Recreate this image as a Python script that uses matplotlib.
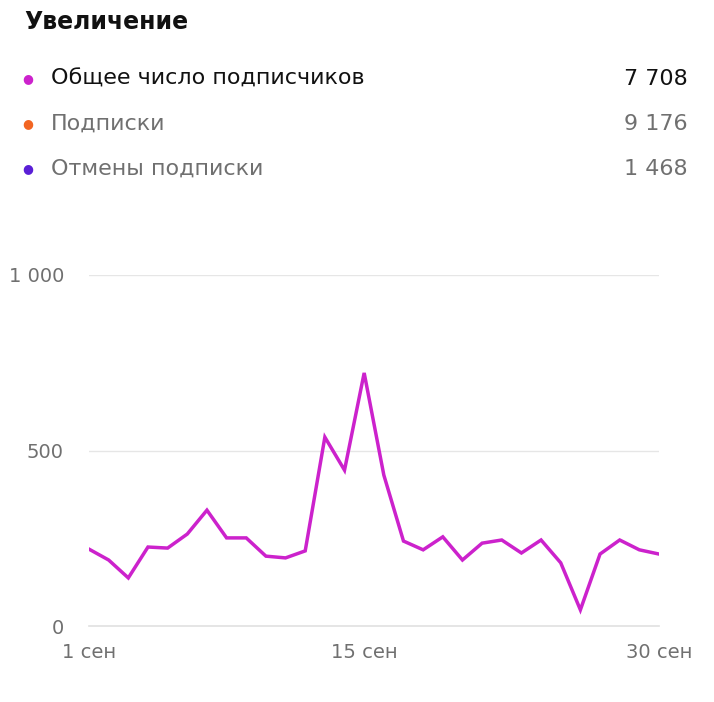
import matplotlib.pyplot as plt

days = list(range(1, 31))
values = [219, 188, 137, 225, 222, 262, 330, 251, 251, 199, 194, 214, 538, 444, 721,
          430, 242, 217, 254, 188, 236, 245, 208, 245, 180, 46, 205, 245, 217, 205]
legend_names = ["Общее число подписчиков", "Подписки", "Отмены подписки"]
legend_values = ["7 708", "9 176", "1 468"]
legend_colors = ["#cc22cc", "#f26522", "#5a1fd6"]
xtick_pos = [1, 15, 30]
xtick_labels = ["1 сен", "15 сен", "30 сен"]
ytick_pos = [0, 500, 1000]
ytick_labels = ["0", "500", "1 000"]

W, H = 714, 702
fig = plt.figure(figsize=(W / 100, H / 100), dpi=100)
fig.patch.set_facecolor("white")

fig.text(24 / W, 1 - 22 / H, "Увеличение", fontsize=17, fontweight="bold",
         color="#111111", va="center")
for i, (n, v, c) in enumerate(zip(legend_names, legend_values, legend_colors)):
    y = 1 - (79 + i * 45) / H
    fig.text(28 / W, y, "●", color=c, fontsize=9, va="center", ha="center")
    tc = "#111111" if i == 0 else "#707070"
    fig.text(51 / W, y, n, fontsize=16, color=tc, va="center")
    fig.text(688 / W, y, v, fontsize=16, color=tc, va="center", ha="right")

ax = fig.add_axes([89 / W, 1 - 626 / H, (659 - 89) / W, (626 - 275) / H])
ax.plot(days, values, color="#cc22cc", lw=2.5, solid_joinstyle="miter")
ax.set_xlim(1, 30)
ax.set_ylim(0, 1000)
for s in ax.spines.values():
    s.set_visible(False)
ax.set_yticks(ytick_pos)
ax.set_yticklabels(ytick_labels)
ax.set_xticks(xtick_pos)
ax.set_xticklabels(xtick_labels)
ax.tick_params(length=0, labelsize=14, labelcolor="#707070")
ax.tick_params(axis="y", pad=18)
ax.tick_params(axis="x", pad=12)
ax.grid(axis="y", color="#e6e6e6", lw=1)
ax.axhline(0, color="#e0e0e0", lw=1.2, clip_on=False, zorder=0)
ax.set_axisbelow(True)

fig.savefig("out.png", dpi=100)
